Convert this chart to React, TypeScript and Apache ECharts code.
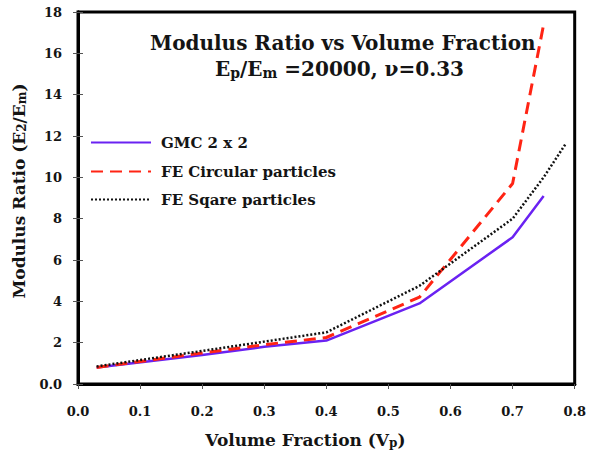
import React, { useEffect, useRef } from 'react';
import * as echarts from 'echarts';

const seriesNames = ['GMC 2 x 2', 'FE Circular particles', 'FE Sqare particles'];
const gmcVf = [0.03, 0.2, 0.3, 0.4, 0.55, 0.7, 0.75];
const gmcRatio = [0.8, 1.4, 1.8, 2.1, 3.9, 7.1, 9.1];
const circVf = [0.03, 0.2, 0.3, 0.4, 0.55, 0.7, 0.75];
const circRatio = [0.8, 1.5, 1.9, 2.25, 4.2, 9.7, 17.4];
const sqVf = [0.03, 0.2, 0.3, 0.4, 0.55, 0.7, 0.75, 0.785];
const sqRatio = [0.85, 1.6, 2.05, 2.5, 4.75, 8.0, 10.0, 11.6];
const titleLine1 = 'Modulus Ratio vs Volume Fraction';
const titleLine2 = 'E{sub|p}/E{sub|m} =20000, ν=0.33';
const yName = 'Modulus Ratio (E{sub|2}/E{sub|m})';
const xName = 'Volume Fraction (V{sub|p})';

const FONT = "'DejaVu Serif', serif";
const INK = '#141414';

function pairs(xs: number[], ys: number[]) {
  return xs.map((x, i) => [x, ys[i]]);
}

export default function App() {
  const ref = useRef<HTMLDivElement>(null);
  useEffect(() => {
    if (!ref.current) return;
    const chart = echarts.init(ref.current, null, { renderer: 'svg' });
    const sub = { fontSize: 12, fontFamily: FONT, fontWeight: 'bold', color: INK, verticalAlign: 'bottom', padding: [7, 0, 0, 0] };
    const legendText = (pb: number) => ({
      fontFamily: FONT, fontWeight: 'bold', fontSize: 15, color: INK, padding: [0, 0, pb, 5],
    });
    const mkLegend = (name: string, top: number, pb: number) => ({
      show: true, left: 90, top, padding: 0, orient: 'vertical', itemWidth: 60, itemHeight: 14,
      itemStyle: { opacity: 0 },
      data: [{ name, textStyle: legendText(pb) }],
    });
    chart.setOption({
      animation: false,
      backgroundColor: '#ffffff',
      title: [
        {
          text: titleLine1, left: 150, top: 33, padding: 0,
          textStyle: { fontFamily: FONT, fontWeight: 'bold', fontSize: 20, color: INK },
        },
        {
          text: titleLine2, left: 215, top: 58, padding: 0,
          textStyle: {
            fontFamily: FONT, fontWeight: 'bold', fontSize: 20, color: INK,
            rich: { sub: { ...sub, fontSize: 14, padding: [8, 0, 0, 0] } },
          },
        },
      ],
      legend: [
        mkLegend(seriesNames[0], 135, 26),
        mkLegend(seriesNames[1], 164, 18),
        mkLegend(seriesNames[2], 192, 8),
      ],
      grid: { left: 78, right: 7, top: 12, bottom: 68, show: true, borderColor: '#000', borderWidth: 3, backgroundColor: '#fff' },
      xAxis: [
        {
          type: 'value', min: 0, max: 0.8, interval: 0.1, position: 'bottom',
          name: xName, nameLocation: 'middle', nameGap: 46,
          nameTextStyle: {
            fontFamily: FONT, fontWeight: 'bold', fontSize: 17, color: INK, padding: [0, 42, 0, 0],
            rich: { sub: { ...sub } },
          },
          axisLine: { show: true, lineStyle: { color: '#000', width: 3 } },
          axisTick: { show: true, inside: false, length: 5, lineStyle: { color: '#555', width: 1 } },
          axisLabel: {
            margin: 21, fontFamily: FONT, fontWeight: 'bold', fontSize: 13, color: INK,
            formatter: (v: number) => v.toFixed(1),
          },
          splitLine: { show: false },
        },
        {
          type: 'value', min: 0, max: 0.8, interval: 0.1, position: 'top',
          axisLine: { show: true, lineStyle: { color: '#000', width: 3 } },
          axisTick: { show: true, inside: true, length: 5, lineStyle: { color: '#555', width: 1 } },
          axisLabel: { show: false },
          splitLine: { show: false },
        },
      ],
      yAxis: [
        {
          type: 'value', min: 0, max: 18, interval: 2, position: 'left',
          name: yName, nameLocation: 'middle', nameRotate: 90, nameGap: 47,
          nameTextStyle: {
            fontFamily: FONT, fontWeight: 'bold', fontSize: 17, color: INK, padding: [0, 0, 0, 14],
            rich: { sub: { ...sub } },
          },
          axisLine: { show: true, lineStyle: { color: '#000', width: 3 } },
          axisTick: { show: true, inside: true, length: 5, lineStyle: { color: '#555', width: 1 } },
          axisLabel: {
            margin: 16, fontFamily: FONT, fontWeight: 'bold', fontSize: 13, color: INK,
            formatter: (v: number) => (v === 0 ? '0.0' : String(v)),
          },
          splitLine: { show: false },
        },
        {
          type: 'value', min: 0, max: 18, interval: 2, position: 'right',
          axisLine: { show: true, lineStyle: { color: '#000', width: 3 } },
          axisTick: { show: true, inside: true, length: 5, lineStyle: { color: '#555', width: 1 } },
          axisLabel: { show: false },
          splitLine: { show: false },
        },
      ],
      series: [
        {
          name: seriesNames[0], type: 'line', xAxisIndex: 0, yAxisIndex: 0, symbol: 'none',
          data: pairs(gmcVf, gmcRatio),
          lineStyle: { color: '#6a22f2', width: 2.5, type: 'solid' },
          itemStyle: { color: '#6a22f2' }, z: 3,
        },
        {
          name: seriesNames[1], type: 'line', xAxisIndex: 0, yAxisIndex: 0, symbol: 'none',
          data: pairs(circVf, circRatio),
          lineStyle: { color: '#ff2414', width: 3, type: [12, 7] },
          itemStyle: { color: '#ff2414' }, z: 4,
        },
        {
          name: seriesNames[2], type: 'line', xAxisIndex: 0, yAxisIndex: 0, symbol: 'none',
          data: pairs(sqVf, sqRatio),
          lineStyle: { color: '#111111', width: 2.5, type: [2, 2] },
          itemStyle: { color: '#111111' }, z: 5,
        },
      ],
    });
    return () => chart.dispose();
  }, []);
  return (
    <div
      ref={ref}
      style={{ position: 'fixed', left: 0, top: 0, width: 589, height: 454, background: '#fff' }}
    />
  );
}
